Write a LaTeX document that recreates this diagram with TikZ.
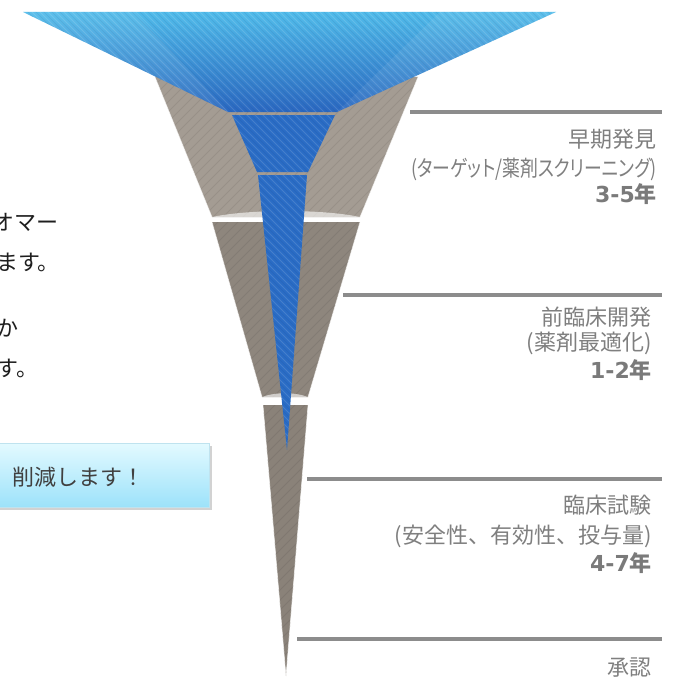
\documentclass[tikz,border=0pt]{standalone}
\usepackage{fontspec}
\newfontfamily\jp{Noto Sans CJK JP}
\newfontfamily\jpn{Noto Sans CJK JP}[RawFeature=+palt, FakeStretch=0.81]
\newfontfamily\dv{DejaVu Sans}
\usetikzlibrary{shadows}
\definecolor{lblgray}{HTML}{7F7F7F}
\definecolor{yrgray}{HTML}{7A7A7A}
\definecolor{linegray}{HTML}{8C8C8C}
\definecolor{greyA}{HTML}{A49C93}
\definecolor{greyB}{HTML}{8E867D}
\definecolor{greyC}{HTML}{8A8279}
\definecolor{blueTop}{HTML}{50BBEA}
\definecolor{blueBot}{HTML}{2A67C0}
\definecolor{blueMid}{HTML}{2A6CC5}
\definecolor{boxTop}{HTML}{E3FAFF}
\definecolor{boxBot}{HTML}{9CE2FA}
\definecolor{boxedge}{HTML}{BFE3EF}
\definecolor{lefttext}{HTML}{1E1E1E}
\definecolor{boxtext}{HTML}{404040}
\begin{document}
\begin{tikzpicture}[x=1pt,y=-1pt,
  lbl/.style={inner sep=0pt, anchor=east, text=lblgray, font=\jp\fontsize{22}{26}\selectfont},
  lblk/.style={lbl, font=\jpn\fontsize{22}{26}\selectfont},
  yr/.style={inner sep=0pt, anchor=east, text=yrgray, font=\fontsize{22}{26}\selectfont\bfseries},
  lbline/.style={draw=linegray, line width=3.5pt},
  lefttxt/.style={inner sep=0pt, anchor=east, text=lefttext, font=\jp\fontsize{22}{26}\selectfont},
  boxtxt/.style={inner sep=0pt, anchor=east, text=boxtext, font=\jp\fontsize{22}{26}\selectfont},
  callout/.style={rectangle, draw=boxedge, line width=0.6pt, top color=boxTop, bottom color=boxBot,
    drop shadow={opacity=0.35, shadow xshift=2.5pt, shadow yshift=-2.5pt}},
  greystripe/.style={draw=black, opacity=0.07, line width=0.8pt},
  bluestripe/.style={draw=white, opacity=0.13, line width=1pt},
  bluestripedark/.style={draw=blueBot!60!black, opacity=0.12, line width=0.7pt},
  edgehl/.style={draw=white, opacity=0.6, line width=0.7pt}
  ]
\useasboundingbox (0,0) rectangle (680,677);
\fill[white] (0,0) rectangle (680,677);

% grey funnel sections
\fill[greyA] (155,77) -- (418,77) -- (360,217) -- (212,217) -- cycle;
\fill[greyB] (212,222) -- (360,222) -- (308,397) -- (262,397) -- cycle;
\fill[greyC] (263,405) -- (308,405) -- (286,676) -- cycle;
\begin{scope}
  \clip (155,77) -- (418,77) -- (360,217) -- (212,217) -- cycle
        (212,222) -- (360,222) -- (308,397) -- (262,397) -- cycle
        (263,405) -- (308,405) -- (286,676) -- cycle;
  \foreach \c in {230,240,...,1100} \draw[greystripe] (\c,0) -- ++(-700,700);
\end{scope}
\fill[white, opacity=0.6] (212,217) .. controls (250,209) and (322,209) .. (360,217) -- cycle;
\fill[white, opacity=0.6] (262,397) .. controls (275,392) and (295,392) .. (308,397) -- cycle;
\draw[edgehl] (155,77) -- (212,217) (418,77) -- (360,217);
\draw[edgehl] (212,222) -- (262,397) (360,222) -- (308,397);
\draw[edgehl] (263,405) -- (286,676) -- (308,405);

% blue sections
\shade[top color=blueTop, bottom color=blueBot] (23,12) -- (556,12) -- (337,112) -- (228,112) -- cycle;
\fill[blueMid] (232,115) -- (335,115) -- (308,172) -- (257,172) -- cycle;
\fill[blueMid] (258,175) -- (307,175) -- (287,450) -- cycle;
\begin{scope}
  \clip (23,12) -- (556,12) -- (337,112) -- (228,112) -- cycle
        (232,115) -- (335,115) -- (308,172) -- (257,172) -- cycle
        (258,175) -- (307,175) -- (287,450) -- cycle;
  \foreach \c in {-180,-172,...,560} \draw[bluestripe] (\c,0) -- ++(700,700);
  \foreach \c in {-176,-168,...,560} \draw[bluestripedark] (\c,0) -- ++(700,700);
\end{scope}
\fill[white, opacity=0.07] (23,12) -- (135,12) -- (228,112) -- cycle;
\fill[white, opacity=0.07] (556,12) -- (440,12) -- (337,112) -- cycle;

% label lines
\coordinate (a1) at (410,112); \coordinate (b1) at (662,112);
\coordinate (a2) at (343,295); \coordinate (b2) at (662,295);
\coordinate (a3) at (307,479); \coordinate (b3) at (662,479);
\coordinate (a4) at (297,639); \coordinate (b4) at (662,639);
\draw[lbline] (a1) -- (b1);
\draw[lbline] (a2) -- (b2);
\draw[lbline] (a3) -- (b3);
\draw[lbline] (a4) -- (b4);

% labels
\node[lbl] (s1a) at (657,139) {早期発見};
\node[lblk] (s1b) at (657,169) {(ターゲット/薬剤スクリーニング)};
\node[yr] (s1c) at (657,194) {{\dv 3-5}{\jp 年}};
\node[lbl] (s2a) at (652,317) {前臨床開発};
\node[lbl] (s2b) at (652,343) {(薬剤最適化)};
\node[yr] (s2c) at (652,370) {{\dv 1-2}{\jp 年}};
\node[lbl] (s3a) at (652,505) {臨床試験};
\node[lbl] (s3b) at (652,536) {(安全性、有効性、投与量)};
\node[yr] (s3c) at (652,563) {{\dv 4-7}{\jp 年}};
\node[lbl] (s4a) at (652,668) {承認};

% left text
\node[lefttxt] (t1) at (59,222) {オマー};
\node[lefttxt] (t2) at (60,262) {ます。};
\node[lefttxt] (t3) at (19,328) {か};
\node[lefttxt] (t4) at (39,368) {す。};

% callout box
\node[callout, minimum width=222pt, minimum height=64pt, anchor=north east] (box) at (210,443) {};
\node[boxtxt] (btxt) at (145,477) {削減します！};
\end{tikzpicture}
\end{document}
